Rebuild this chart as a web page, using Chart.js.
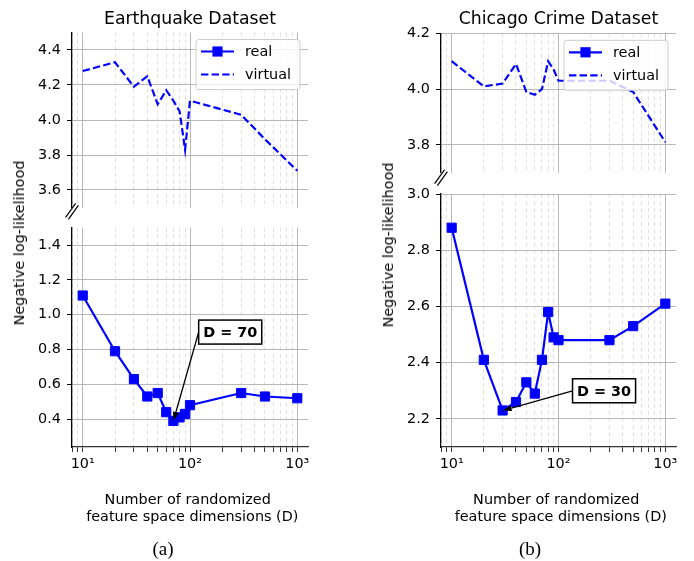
<!DOCTYPE html>
<html>
<head>
<meta charset="utf-8">
<script src="https://cdn.jsdelivr.net/npm/chart.js@4.4.1/dist/chart.umd.min.js"></script>
<style>
  html, body { margin: 0; padding: 0; background: #fff; }
  #page { position: relative; width: 694px; height: 561px; overflow: hidden; font-family: 'DejaVu Sans', sans-serif; color: #000; }
  #page canvas { position: absolute; left: 0; top: 0; }
  .txt { position: absolute; transform: translate(-50%, -50%); white-space: nowrap; }
  .title { font-size: 17.3px; }
  .xlab { font-size: 14.4px; text-align: center; line-height: 17px; }
  .ylab { font-size: 14.4px; transform: translate(-50%, -50%) rotate(-90deg); }
  .cap { font-family: 'Liberation Serif', 'DejaVu Serif', serif; font-size: 19px; }
</style>
</head>
<body>
<div id="page">
  <canvas id="quakeTop" width="694" height="561"></canvas>
  <canvas id="quakeBottom" width="694" height="561"></canvas>
  <canvas id="crimeTop" width="694" height="561"></canvas>
  <canvas id="crimeBottom" width="694" height="561"></canvas>

  <div class="txt title" style="left:190px;top:18px">Earthquake Dataset</div>
  <div class="txt title" style="left:558.5px;top:18px">Chicago Crime Dataset</div>
  <div class="txt ylab" style="left:19px;top:243px">Negative log-likelihood</div>
  <div class="txt ylab" style="left:388px;top:245px">Negative log-likelihood</div>
  <div class="txt xlab" style="left:190px;top:508px">Number of randomized&nbsp;<br>&nbsp;feature space dimensions (D)</div>
  <div class="txt xlab" style="left:558.5px;top:508px">Number of randomized&nbsp;<br>&nbsp;feature space dimensions (D)</div>
  <div class="txt cap" style="left:163px;top:549px">(a)</div>
  <div class="txt cap" style="left:530px;top:549px">(b)</div>
</div>

<script>
// dimensions D tested
const dims = [10, 20, 30, 40, 50, 60, 70, 80, 90, 100, 300, 500, 1000];

// earthquake dataset
const quakeReal = [1.11, 0.79, 0.63, 0.53, 0.55, 0.44, 0.39, 0.41, 0.43, 0.48, 0.55, 0.53, 0.52];
const quakeVirtual = [4.28, 4.33, 4.19, 4.25, 4.09, 4.17, 4.11, 4.05, 3.83, 4.11, 4.03, 3.89, 3.71];

// chicago crime dataset
const crimeReal = [2.88, 2.41, 2.23, 2.26, 2.33, 2.29, 2.41, 2.58, 2.49, 2.48, 2.48, 2.53, 2.61];
const crimeVirtual = [4.10, 4.01, 4.02, 4.09, 3.99, 3.98, 4.00, 4.10, 4.07, 4.03, 4.03, 3.99, 3.81];

// ticks
const xTicks = [8, 9, 10, 20, 30, 40, 50, 60, 70, 80, 90, 100, 200, 300, 400, 500, 600, 700, 800, 900, 1000];
const quakeTopTicks = [3.6, 3.8, 4.0, 4.2, 4.4];
const quakeBottomTicks = [0.4, 0.6, 0.8, 1.0, 1.2, 1.4];
const crimeTopTicks = [3.8, 4.0, 4.2];
const crimeBottomTicks = [2.2, 2.4, 2.6, 2.8, 3.0];

const FONT = "'DejaVu Sans', sans-serif";
const W = 694, H = 561;
const YW = 60;   // y axis box width
const XH = 40;   // x axis box height (bottom panels only)
const X_MIN = Math.pow(10, 0.9), X_MAX = Math.pow(10, 3.1);

const isDecade = v => Math.abs(Math.log10(v) - Math.round(Math.log10(v))) < 1e-9;
const sup = { 1: '\u00b9', 2: '\u00b2', 3: '\u00b3' };
const xLabel = v => isDecade(v) ? '10' + sup[Math.round(Math.log10(v))] : '';
const points = values => dims.map((d, i) => ({ x: d, y: values[i] }));
const argMin = arr => arr.indexOf(Math.min(...arr));

const realStyle = {
  label: 'real', borderColor: '#0000ff', backgroundColor: '#0000ff', borderWidth: 2.2,
  pointStyle: 'rect', pointRadius: 6.5, pointBorderWidth: 1, tension: 0, fill: false
};
const virtualStyle = {
  label: 'virtual', borderColor: '#0000ff', borderWidth: 2.2, borderDash: [7.4, 3.2],
  pointRadius: 0, tension: 0, fill: false
};

// legend box in the upper right corner, like matplotlib
function boxLegend(items) {
  return {
    id: 'boxLegend',
    afterDraw(chart) {
      const { ctx, chartArea } = chart;
      const w = 104, h = 50;
      const x0 = chartArea.right - 8 - w, y0 = chartArea.top + 7;
      ctx.save();
      ctx.beginPath();
      ctx.roundRect(x0, y0, w, h, 3);
      ctx.fillStyle = 'rgba(255,255,255,0.8)';
      ctx.fill();
      ctx.strokeStyle = '#cccccc';
      ctx.lineWidth = 1;
      ctx.stroke();
      items.forEach((st, i) => {
        const y = y0 + 12 + i * 23;
        ctx.strokeStyle = st.borderColor;
        ctx.lineWidth = st.borderWidth;
        ctx.setLineDash(st.borderDash || []);
        ctx.beginPath();
        ctx.moveTo(x0 + 5, y);
        ctx.lineTo(x0 + 38, y);
        ctx.stroke();
        ctx.setLineDash([]);
        if (st.pointRadius) {
          const s = 2 * Math.SQRT1_2 * st.pointRadius + st.pointBorderWidth;
          ctx.fillStyle = st.backgroundColor;
          ctx.fillRect(x0 + 21.5 - s / 2, y - s / 2, s, s);
        }
        ctx.fillStyle = '#000';
        ctx.font = '14.4px ' + FONT;
        ctx.textBaseline = 'middle';
        ctx.fillText(st.label, x0 + 49, y + 1);
      });
      ctx.restore();
    }
  };
}

// boxed label with an arrow to the best point
function bestNote(values, at) {
  const i = argMin(values);
  const text = 'D = ' + dims[i];
  return {
    id: 'bestNote',
    afterDatasetsDraw(chart) {
      const { ctx, scales: { x, y } } = chart;
      const cx = x.getPixelForValue(at[0]), cy = y.getPixelForValue(at[1]);
      const tx = x.getPixelForValue(dims[i]), ty = y.getPixelForValue(values[i]);
      ctx.save();
      ctx.font = 'bold 14.4px ' + FONT;
      const bw = ctx.measureText(text).width + 9, bh = 24;
      const bx = cx - bw / 2, by = cy - bh / 2;
      const ang = Math.atan2(ty - cy, tx - bx);
      const hl = 9, hw = 3;
      const ex = tx - Math.cos(ang) * hl, ey = ty - Math.sin(ang) * hl;
      ctx.strokeStyle = '#000';
      ctx.fillStyle = '#000';
      ctx.lineWidth = 1.3;
      ctx.beginPath();
      ctx.moveTo(bx, cy);
      ctx.lineTo(ex, ey);
      ctx.stroke();
      ctx.beginPath();
      ctx.moveTo(tx, ty);
      ctx.lineTo(ex + Math.sin(ang) * hw, ey - Math.cos(ang) * hw);
      ctx.lineTo(ex - Math.sin(ang) * hw, ey + Math.cos(ang) * hw);
      ctx.closePath();
      ctx.fill();
      ctx.fillStyle = '#fff';
      ctx.fillRect(bx, by, bw, bh);
      ctx.lineWidth = 1.5;
      ctx.strokeRect(bx, by, bw, bh);
      ctx.fillStyle = '#000';
      ctx.textAlign = 'center';
      ctx.textBaseline = 'middle';
      ctx.fillText(text, cx, cy + 1);
      ctx.restore();
    }
  };
}

// "//" mark between the two halves of a broken axis
const breakMark = {
  id: 'breakMark',
  afterDraw(chart) {
    const { ctx, chartArea } = chart;
    const cx = chartArea.left, cy = chartArea.top - 16.3;
    ctx.save();
    ctx.strokeStyle = '#000';
    ctx.lineWidth = 1.2;
    [-1.7, 1.7].forEach(o => {
      const ox = 0.81 * o, oy = 0.58 * o;
      ctx.beginPath();
      ctx.moveTo(cx - 5 + ox, cy + 7 + oy);
      ctx.lineTo(cx + 5 + ox, cy - 7 + oy);
      ctx.stroke();
    });
    ctx.restore();
  }
};

function makeChart(id, p) {
  const showX = p.showX;
  const minor = ctx => ctx.tick && !isDecade(ctx.tick.value);
  return new Chart(document.getElementById(id), {
    type: 'line',
    data: { datasets: [Object.assign({ data: points(p.values) }, p.style)] },
    options: {
      responsive: false,
      animation: false,
      events: [],
      layout: {
        padding: {
          left: p.box[0] - YW, top: p.box[1], right: W - p.box[2],
          bottom: H - p.box[3] - (showX ? XH : 0)
        }
      },
      plugins: { legend: { display: false }, tooltip: { enabled: false } },
      scales: {
        x: {
          type: 'logarithmic', min: X_MIN, max: X_MAX,
          afterBuildTicks: s => { s.ticks = xTicks.map(v => ({ value: v })); },
          afterFit: s => { s.height = showX ? XH : 0; },
          grid: {
            color: ctx => minor(ctx) ? '#dcdcdc' : '#b0b0b0',
            lineWidth: 0.9, drawTicks: showX, tickLength: 5, tickColor: '#333', tickWidth: 1
          },
          border: { display: showX, color: '#333', width: 1.3, dash: ctx => minor(ctx) ? [4, 3] : [] },
          ticks: {
            display: showX, autoSkip: false, maxRotation: 0, padding: 4, color: '#000',
            font: { family: FONT, size: 14.4 }, callback: v => xLabel(v)
          }
        },
        y: {
          min: p.yMin, max: p.yMax,
          afterBuildTicks: s => { s.ticks = p.yTicks.map(v => ({ value: v })); },
          afterFit: s => { s.width = YW; },
          grid: { color: '#b0b0b0', lineWidth: 0.9, tickLength: 5, tickColor: '#000', tickWidth: 1 },
          border: { color: '#000', width: 1.3 },
          ticks: { padding: 6, color: '#000', font: { family: FONT, size: 14.4 }, callback: v => v.toFixed(1) }
        }
      }
    },
    plugins: p.extras
  });
}

makeChart('quakeTop', {
  box: [72, 32.5, 308, 207.5], yMin: 3.5, yMax: 4.5, yTicks: quakeTopTicks,
  values: quakeVirtual, style: virtualStyle, showX: false,
  extras: [boxLegend([realStyle, virtualStyle])]
});
makeChart('quakeBottom', {
  box: [72, 227.6, 308, 447], yMin: 0.24, yMax: 1.5, yTicks: quakeBottomTicks,
  values: quakeReal, style: realStyle, showX: true,
  extras: [bestNote(quakeReal, [237, 0.90]), breakMark]
});
makeChart('crimeTop', {
  box: [441, 33.3, 676, 172.9], yMin: 3.7, yMax: 4.2, yTicks: crimeTopTicks,
  values: crimeVirtual, style: virtualStyle, showX: false,
  extras: [boxLegend([realStyle, virtualStyle])]
});
makeChart('crimeBottom', {
  box: [441, 194, 676, 447], yMin: 2.1, yMax: 3.0, yTicks: crimeBottomTicks,
  values: crimeReal, style: realStyle, showX: true,
  extras: [bestNote(crimeReal, [267, 2.30]), breakMark]
});
</script>
</body>
</html>
